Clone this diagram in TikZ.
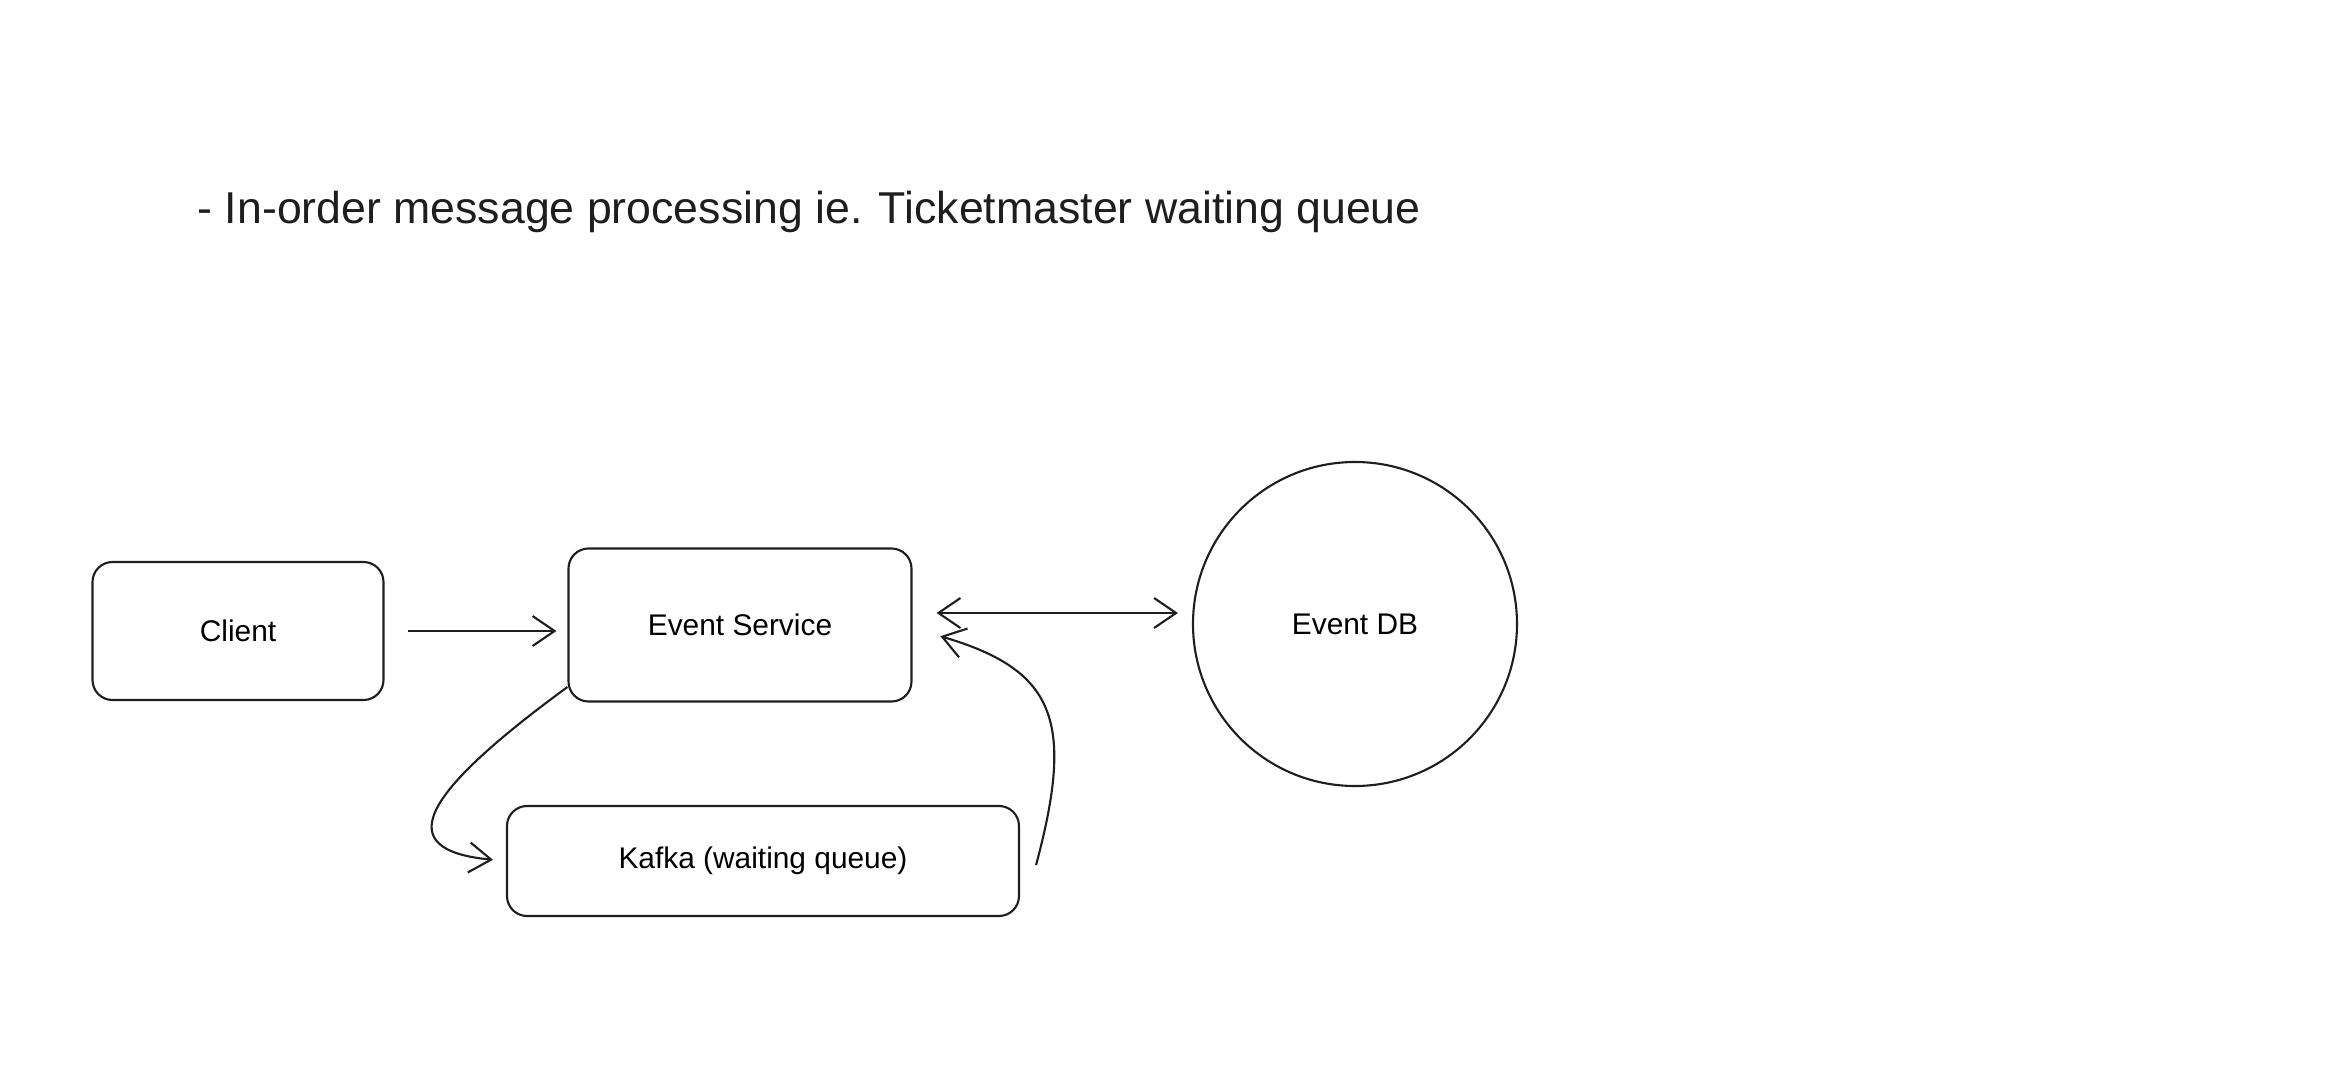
\documentclass[tikz,border=0pt]{standalone}
\usepackage{fontspec}
\setmainfont{Liberation Sans}
\usetikzlibrary{arrows.meta}
\definecolor{ink}{HTML}{1E1E1E}

\begin{document}
\begin{tikzpicture}[
  barb/.tip={Straight Barb[length=.22cm,width=.3cm]},
  box/.style={draw=ink,line width=.6pt,rounded corners=.2cm,font=\fontsize{8.5}{10}\selectfont},
  db/.style={draw=ink,line width=.6pt,circle,minimum size=3.24cm,inner sep=0pt,font=\fontsize{8.5}{10}\selectfont},
  arr/.style={draw=ink,line width=.6pt,-barb}]
\useasboundingbox (0,0) rectangle (23.46,-10.74);

\node[anchor=west,inner sep=0pt,text=ink,font=\fontsize{12.7}{15}\selectfont] (title) at (1.97,-2.12)
  {- In-order message processing ie. Ticketmaster waiting queue};

\node[box,minimum width=2.91cm,minimum height=1.38cm] (client) at (2.38,-6.31) {Client};
\node[box,minimum width=3.43cm,minimum height=1.53cm] (es) at (7.40,-6.25) {Event Service};
\node[db] (edb) at (13.55,-6.24) {Event DB};
\node[box,minimum width=5.12cm,minimum height=1.10cm] (kafka) at (7.63,-8.61) {Kafka (waiting queue)};

\draw[arr,shorten <=.23cm,shorten >=.11cm] (client) -- (client-|es.west);
\draw[arr,barb-barb,shorten <=.24cm,shorten >=.14cm]
  ([yshift=.12cm]es.east) -- ([yshift=.12cm]es.east-|edb.west);
\draw[arr,shorten >=.13cm] ([yshift=-.62cm]es.west) .. controls (4.2,-7.95) and (3.9,-8.5) .. (kafka.west);
\draw[arr,shorten >=.29cm] ([xshift=.16cm,yshift=-.04cm]kafka.east) .. controls (10.75,-7.2) and (10.55,-6.7) .. ([yshift=-.03cm]es.east);
\end{tikzpicture}
\end{document}
